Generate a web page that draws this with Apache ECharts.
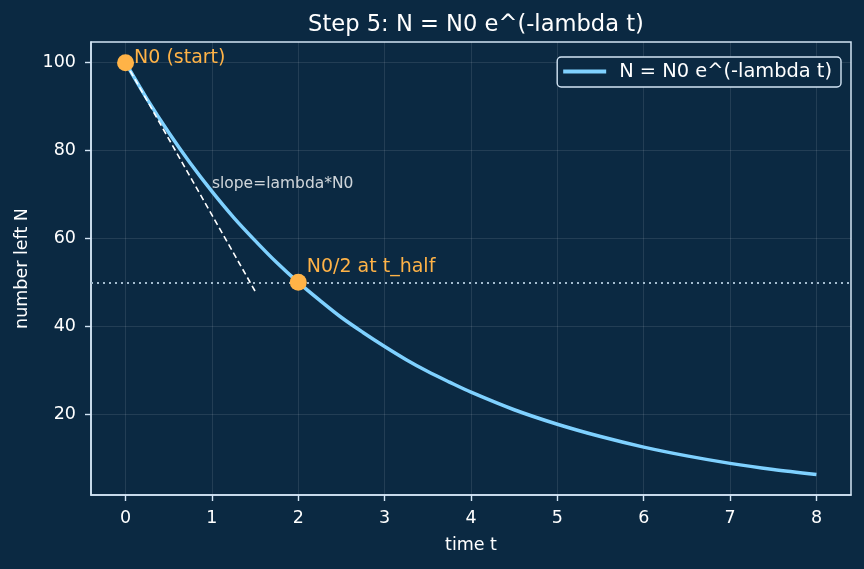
<!DOCTYPE html>
<html>
<head>
<meta charset="utf-8">
<script src="https://cdn.jsdelivr.net/npm/echarts@6/dist/echarts.min.js"></script>
<style>
  html, body { margin: 0; padding: 0; background: #0b2942; }
  #chart { width: 864px; height: 569px; }
</style>
</head>
<body>
<div id="chart"></div>
<script>
// values
const tValues = [0, 0.25, 0.5, 0.75, 1, 1.25, 1.5, 1.75, 2, 2.25, 2.5, 2.75, 3, 3.25, 3.5, 3.75, 4, 4.5, 5, 5.5, 6, 6.5, 7, 7.5, 8];
const nValues = [100, 91.7, 84.1, 77.1, 70.7, 64.8, 59.5, 54.5, 50, 45.9, 42.0, 38.6, 35.4, 32.4, 29.7, 27.3, 25, 21.0, 17.7, 14.9, 12.5, 10.5, 8.8, 7.4, 6.25];
const tangentPts = [[0, 100], [1.5, 48]];
const halfLevel = 50;
const keyPoints = [[0, 100, 'N0 (start)'], [2, 50, 'N0/2 at t_half']];
const slopeNote = [1, 72.5, 'slope=lambda*N0'];
const xTicks = [0, 1, 2, 3, 4, 5, 6, 7, 8];
const yTicks = [20, 40, 60, 80, 100];

const fg = '#ffffff';
const spine = '#d3e5f5';
const orange = '#ffb347';
const curveColor = '#7fd1ff';
const font = 'DejaVu Sans';

const chart = echarts.init(document.getElementById('chart'), null, {renderer: 'canvas'});

const axisCommon = {
  axisLine: {show: true, onZero: false, lineStyle: {color: spine, width: 1.5}},
  axisTick: {show: true, length: 6, lineStyle: {color: spine, width: 1.4}},
  axisLabel: {color: fg, fontSize: 17.5, fontFamily: font},
  splitLine: {show: true, lineStyle: {color: 'rgba(255,255,255,0.1)', width: 1}},
  nameTextStyle: {color: fg, fontSize: 17.5, fontFamily: font},
};

const labelStyle = {
  show: true, formatter: '{b}', color: orange,
  fontSize: 19, fontFamily: font,
  position: 'right', distance: 0,
};

chart.setOption({
  backgroundColor: '#0b2942',
  animation: false,
  title: {
    text: 'Step 5: N = N0 e^(-lambda t)',
    left: 471, top: 9, textAlign: 'center',
    textStyle: {color: fg, fontSize: 22.6, fontWeight: 'normal', fontFamily: font},
  },
  grid: {left: 91, right: 13, top: 42, bottom: 74, show: true, borderColor: spine, borderWidth: 1.5},
  legend: {
    data: [{name: 'N = N0 e^(-lambda t)', icon: 'rect'}],
    right: 23, top: 57,
    orient: 'vertical',
    itemWidth: 43, itemHeight: 4,
    padding: [5, 9, 6, 6],
    backgroundColor: '#0b2942',
    borderColor: spine, borderWidth: 1.4, borderRadius: 4,
    textStyle: {color: fg, fontSize: 19.4, fontFamily: font, padding: [0, 0, 0, 8]},
  },
  xAxis: Object.assign({}, axisCommon, {
    type: 'value', min: -0.4, max: 8.4,
    name: 'time t', nameLocation: 'middle', nameGap: 41,
    axisTick: Object.assign({}, axisCommon.axisTick, {customValues: xTicks}),
    axisLabel: Object.assign({}, axisCommon.axisLabel, {customValues: xTicks, margin: 14}),
  }),
  yAxis: Object.assign({}, axisCommon, {
    type: 'value', min: 1.6, max: 104.7,
    name: 'number left N', nameLocation: 'middle', nameGap: 60,
    axisTick: Object.assign({}, axisCommon.axisTick, {customValues: yTicks}),
    axisLabel: Object.assign({}, axisCommon.axisLabel, {customValues: yTicks, margin: 15}),
  }),
  series: [
    {
      name: 'N = N0 e^(-lambda t)',
      type: 'line',
      data: tValues.map((t, i) => [t, nValues[i]]),
      smooth: 0.3,
      symbol: 'none',
      lineStyle: {color: curveColor, width: 3.5},
      itemStyle: {color: curveColor},
      z: 3,
      markLine: {
        silent: true, symbol: 'none',
        label: {show: false},
        lineStyle: {color: '#a3bccf', type: [2, 4], width: 2},
        data: [{yAxis: halfLevel}],
      },
    },
    {
      name: 'tangent',
      type: 'line',
      data: tangentPts,
      symbol: 'none',
      lineStyle: {color: '#ffffff', type: [6, 3.5], width: 1.6},
      z: 4,
    },
    {
      name: 'start',
      type: 'scatter',
      data: [{value: [keyPoints[0][0], keyPoints[0][1]], name: keyPoints[0][2]}],
      symbolSize: 17,
      itemStyle: {color: orange, opacity: 1},
      label: Object.assign({}, labelStyle, {offset: [0, -5]}),
      z: 5,
    },
    {
      name: 'half',
      type: 'scatter',
      data: [{value: [keyPoints[1][0], keyPoints[1][1]], name: keyPoints[1][2]}],
      symbolSize: 17,
      itemStyle: {color: orange, opacity: 1},
      label: Object.assign({}, labelStyle, {offset: [0, -15]}),
      z: 5,
    },
    {
      name: 'note',
      type: 'scatter',
      data: [{value: [slopeNote[0], slopeNote[1]], name: slopeNote[2]}],
      symbolSize: 0,
      label: {
        show: true, formatter: '{b}', color: fg,
        fontSize: 15.5, fontFamily: font,
        position: 'right', distance: 0,
      },
      z: 5,
    },
  ],
});
</script>
</body>
</html>
